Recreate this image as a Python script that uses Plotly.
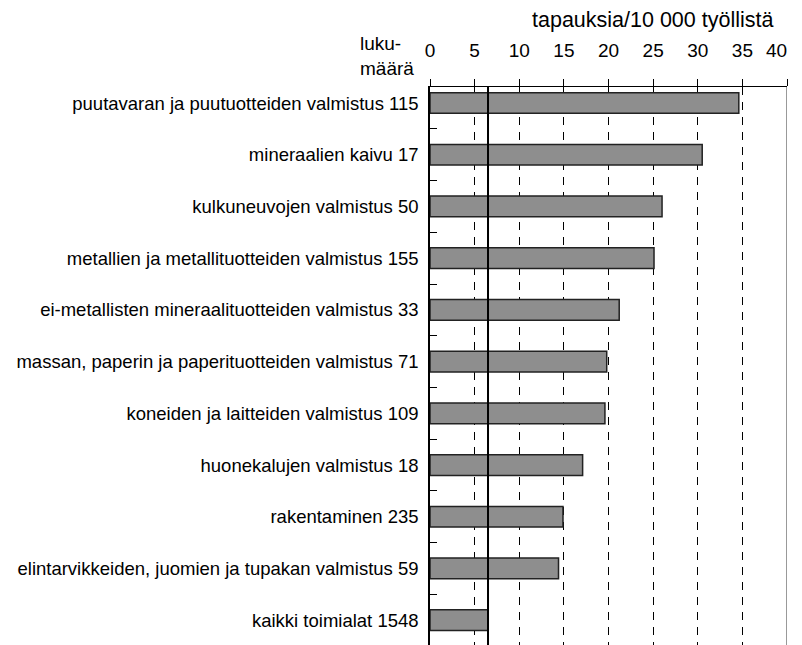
import plotly.graph_objects as go

# tapauksia / 10 000 työllistä, toimialoittain
categories = [
    "puutavaran ja puutuotteiden valmistus 115",
    "mineraalien kaivu 17",
    "kulkuneuvojen valmistus 50",
    "metallien ja metallituotteiden valmistus 155",
    "ei-metallisten mineraalituotteiden valmistus 33",
    "massan, paperin ja paperituotteiden valmistus 71",
    "koneiden ja laitteiden valmistus 109",
    "huonekalujen valmistus 18",
    "rakentaminen 235",
    "elintarvikkeiden, juomien ja tupakan valmistus 59",
    "kaikki toimialat 1548",
]
rates = [34.6, 30.5, 26.0, 25.1, 21.2, 19.8, 19.6, 17.1, 14.9, 14.4, 6.5]
x_ticks = [0, 5, 10, 15, 20, 25, 30, 35, 40]
x_tick_labels = ["0", "5", "10", "15", "20", "25", "30", "35", "40"]

average = rates[-1]  # kaikki toimialat -> pystyviiva

FONT = "Liberation Sans, Arial, sans-serif"

fig = go.Figure(
    go.Bar(
        x=rates,
        y=categories,
        orientation="h",
        width=0.4,
        marker=dict(color="#8e8e8e", line=dict(color="#222222", width=1.5)),
    )
)

# the page body has an 8px default margin, margins below allow for it
fig.update_layout(
    width=802,
    height=645,
    margin=dict(l=422, r=23, t=79, b=8),
    plot_bgcolor="white",
    paper_bgcolor="white",
    showlegend=False,
    font=dict(family=FONT, size=19, color="black"),
    xaxis=dict(
        side="top",
        range=[0, 40],
        tickvals=x_ticks,
        # last label is drawn separately, pulled inside the right edge
        ticktext=x_tick_labels[:-1] + [""],
        ticks="outside",
        ticklen=7,
        tickcolor="black",
        tickwidth=1,
        ticklabelstandoff=14,
        showline=True,
        linecolor="black",
        linewidth=1,
        showgrid=True,
        gridcolor="black",
        gridwidth=1,
        griddash="8px,7px",
        zeroline=False,
        automargin=False,
        tickfont=dict(size=19),
    ),
    yaxis=dict(
        type="category",
        range=[len(categories) - 0.52, -0.31],
        tickson="boundaries",
        ticks="inside",
        ticklen=7,
        tickcolor="black",
        showline=True,
        linecolor="black",
        linewidth=1.5,
        showgrid=False,
        zeroline=False,
        automargin=False,
        ticklabelstandoff=6,
        tickfont=dict(size=18.5),
    ),
)

# keskiarvoviiva ja oikea reuna
fig.add_shape(type="line", xref="x", yref="paper", x0=average, x1=average,
              y0=0, y1=1, line=dict(color="black", width=2), layer="above")
fig.add_shape(type="line", xref="x", yref="paper", x0=x_ticks[-1], x1=x_ticks[-1],
              y0=0, y1=1, line=dict(color="#777777", width=1.5), layer="above")

fig.add_annotation(text=x_tick_labels[-1], xref="x", yref="paper",
                   x=x_ticks[-1], y=1, xshift=2, yshift=37, showarrow=False,
                   xanchor="right", yanchor="middle", font=dict(size=19))
fig.add_annotation(text="tapauksia/10 000 työllistä", xref="paper", yref="paper",
                   x=0.622, y=1, yshift=67, showarrow=False, xanchor="center",
                   yanchor="middle", font=dict(size=21.5))
fig.add_annotation(text="luku-<br>määrä", xref="paper", yref="paper",
                   x=0, y=1, xshift=-72, yshift=31, showarrow=False,
                   xanchor="left", yanchor="middle", align="left",
                   font=dict(size=19))

fig.write_html("out.html")
